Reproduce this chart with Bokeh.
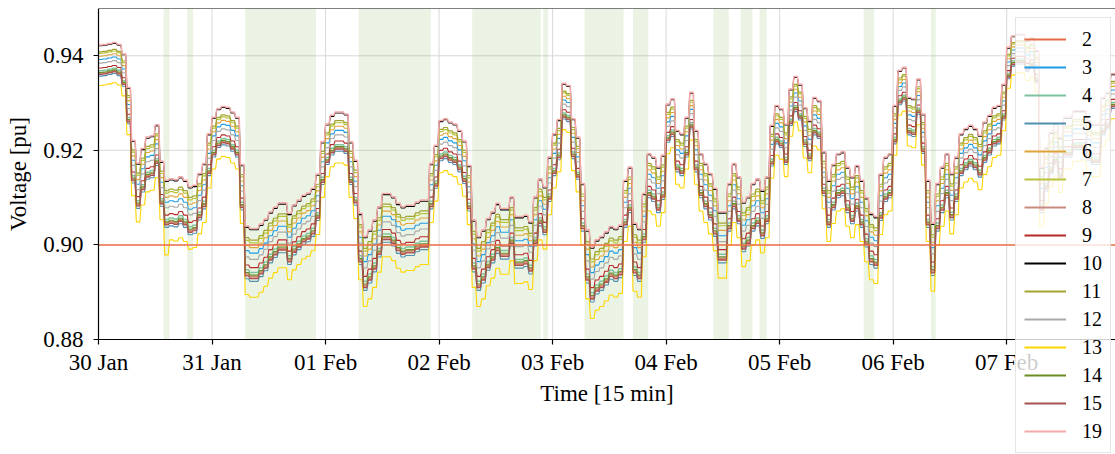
import numpy as np
import pandas as pd
from bokeh.plotting import figure
from bokeh.models import (ColumnDataSource, Range1d, FixedTicker, NumeralTickFormatter,
                          DatetimeTickFormatter, DatetimeAxis, Legend, LegendItem)
from bokeh.embed import file_html
from bokeh.resources import INLINE

# ---------------- data ----------------
start = pd.Timestamp("2023-01-30 00:00")
end = pd.Timestamp("2023-02-07 23:00")             # right edge of the visible window
day_ticks = pd.date_range(start, periods=9, freq="D")
day_labels = ["30 Jan", "31 Jan", "01 Feb", "02 Feb", "03 Feb", "04 Feb", "05 Feb", "06 Feb", "07 Feb"]
voltage_ticks = [0.88, 0.90, 0.92, 0.94]
voltage_axis = (0.88, 0.95)
voltage_limit = 0.90

# hourly voltage of bus 19 (top line), one list per day
bus19_jan30 = [0.9423, 0.9424, 0.9426, 0.9428, 0.9424, 0.9404, 0.9333, 0.9221, 0.9173, 0.9204, 0.9228, 0.9231,
               0.9254, 0.9177, 0.9137, 0.9140, 0.9138, 0.9144, 0.9137, 0.9123, 0.9126, 0.9151, 0.9172, 0.9235]
bus19_jan31 = [0.9270, 0.9288, 0.9293, 0.9291, 0.9281, 0.9270, 0.9170, 0.9040, 0.9035, 0.9035, 0.9044, 0.9055,
               0.9070, 0.9080, 0.9089, 0.9089, 0.9067, 0.9085, 0.9095, 0.9105, 0.9110, 0.9120, 0.9150, 0.9218]
bus19_feb01 = [0.9256, 0.9274, 0.9281, 0.9281, 0.9277, 0.9218, 0.9179, 0.9067, 0.9018, 0.9032, 0.9053, 0.9081,
               0.9109, 0.9109, 0.9102, 0.9088, 0.9081, 0.9084, 0.9084, 0.9091, 0.9095, 0.9095, 0.9172, 0.9211]
bus19_feb02 = [0.9263, 0.9267, 0.9260, 0.9256, 0.9242, 0.9220, 0.9168, 0.9053, 0.9018, 0.9032, 0.9056, 0.9070,
               0.9088, 0.9077, 0.9077, 0.9102, 0.9060, 0.9060, 0.9063, 0.9049, 0.9102, 0.9140, 0.9123, 0.9186]
bus19_feb03 = [0.9235, 0.9265, 0.9342, 0.9337, 0.9267, 0.9228, 0.9130, 0.9032, 0.8996, 0.9011, 0.9018, 0.9028,
               0.9039, 0.9035, 0.9042, 0.9137, 0.9165, 0.9046, 0.9035, 0.9109, 0.9193, 0.9186, 0.9165, 0.9190]
bus19_feb04 = [0.9298, 0.9309, 0.9242, 0.9235, 0.9270, 0.9323, 0.9242, 0.9193, 0.9172, 0.9151, 0.9120, 0.9070,
               0.9070, 0.9130, 0.9172, 0.9144, 0.9091, 0.9102, 0.9130, 0.9140, 0.9116, 0.9144, 0.9253, 0.9295]
bus19_feb05 = [0.9288, 0.9256, 0.9330, 0.9356, 0.9340, 0.9290, 0.9263, 0.9312, 0.9305, 0.9197, 0.9137, 0.9170,
               0.9193, 0.9197, 0.9165, 0.9144, 0.9168, 0.9137, 0.9100, 0.9067, 0.9060, 0.9150, 0.9186, 0.9193]
bus19_feb06 = [0.9295, 0.9369, 0.9376, 0.9312, 0.9309, 0.9351, 0.9277, 0.9137, 0.9046, 0.9130, 0.9165, 0.9193,
               0.9151, 0.9186, 0.9235, 0.9246, 0.9253, 0.9246, 0.9232, 0.9260, 0.9274, 0.9291, 0.9295, 0.9340]
bus19_feb07 = [0.9418, 0.9442, 0.9446, 0.9446, 0.9432, 0.9439, 0.9411, 0.9165, 0.9206, 0.9238, 0.9257, 0.9227,
               0.9270, 0.9270, 0.9284, 0.9284, 0.9284, 0.9263, 0.9256, 0.9256, 0.9312, 0.9323, 0.9362, 0.9362]

bus_names = ["2", "3", "4", "5", "6", "7", "8", "9", "10", "11", "12", "13", "14", "15", "19"]
# position of each bus between bus 19 (0) and bus 13 (1)
bus_spread_pos = [0.72, 0.36, 0.64, 0.77, 0.28, 0.21, 0.70, 0.57, 0.02, 0.17, 0.45, 1.00, 0.68, 0.73, 0.00]
# extra drop of bus 13 relative to bus 19, per unit of (source - bus 19) voltage
bus13_sensitivity = 0.154
source_voltage = 0.998
bus13_dips = {14: 0.8979}   # hour index -> voltage

# periods with under-voltage (green shading)
low_start = ["2023-01-30 13:45", "2023-01-30 18:45", "2023-01-31 07:00", "2023-02-01 07:00",
             "2023-02-02 07:00", "2023-02-02 22:00", "2023-02-03 06:45", "2023-02-03 17:00",
             "2023-02-04 10:00", "2023-02-04 15:45", "2023-02-04 19:45", "2023-02-05 17:45",
             "2023-02-06 08:00"]
low_end = ["2023-01-30 15:00", "2023-01-30 20:00", "2023-01-31 22:00", "2023-02-01 22:15",
           "2023-02-02 21:30", "2023-02-02 23:00", "2023-02-03 15:00", "2023-02-03 20:15",
           "2023-02-04 13:15", "2023-02-04 18:15", "2023-02-04 21:15", "2023-02-05 20:00",
           "2023-02-06 09:00"]

# ---------------- styles / layout ----------------
bus_colors = ["#e66a46", "#1e9be6", "#7fc39c", "#4f8fb0", "#e0a33a", "#b8c43a", "#c98a80", "#b82a2a",
              "#000000", "#a3a332", "#a9a9a9", "#ffd500", "#6b8e23", "#a65252", "#f5a9a9"]
bus_widths = [1.1, 1.1, 1.5, 1.1, 1.1, 1.2, 1.6, 1.1, 1.1, 1.2, 1.2, 1.1, 1.1, 1.2, 1.5]
GRID = "#d9d9d9"
FONT = "Liberation Serif"
W, H = 1115, 454
TOP, LEFT = 8, 98                  # top of the data band, position of the y axis
AXIS_PX = 331                      # pixel height of the 0.88..0.95 band
# The frame covers the whole figure so that nothing (legend, first tick label) is clipped;
# both axes are drawn at fixed locations (30 Jan and 0.88).
span_h = (end - start) / pd.Timedelta(hours=1)
x_low = start - pd.Timedelta(hours=span_h * LEFT / (W - LEFT))
y_low = voltage_axis[0] - (voltage_axis[1] - voltage_axis[0]) * (H - TOP - AXIS_PX) / AXIS_PX

# ---------------- build series ----------------
hourly19 = np.array(bus19_jan30 + bus19_jan31 + bus19_feb01 + bus19_feb02 + bus19_feb03 +
                    bus19_feb04 + bus19_feb05 + bus19_feb06 + bus19_feb07)
top = np.repeat(hourly19, 4)                       # 15-min steps, hourly values
times = start + pd.to_timedelta(np.arange(top.size) * 15, unit="min")
drop13 = bus13_sensitivity * (source_voltage - top)

p = figure(width=W, height=H, x_axis_type="datetime",
           x_range=Range1d(x_low, end), y_range=Range1d(y_low, voltage_axis[1]),
           output_backend="svg", toolbar_location=None,
           min_border_left=0, min_border_right=0, min_border_top=TOP, min_border_bottom=0)
p.background_fill_color = "white"
p.border_fill_color = "white"
p.outline_line_color = None
p.xgrid.visible = False
p.ygrid.visible = False

# grid lines, only over the data band
p.segment(x0=day_ticks, y0=voltage_axis[0], x1=day_ticks, y1=voltage_axis[1],
          line_color=GRID, line_width=1)
p.segment(x0=start, y0=voltage_ticks, x1=end, y1=voltage_ticks, line_color=GRID, line_width=1)

shade = ColumnDataSource(dict(left=pd.to_datetime(low_start), right=pd.to_datetime(low_end)))
p.quad(left="left", right="right", bottom=voltage_axis[0], top=voltage_axis[1], source=shade,
       fill_color="#7ab648", fill_alpha=0.15, line_color=None)

items = []
for name, color, w, pos in zip(bus_names, bus_colors, bus_widths, bus_spread_pos):
    v = top - pos * drop13
    if name == "13":
        for h, val in bus13_dips.items():
            v[4 * h:4 * h + 4] = val
    p.line(times, v, line_color=color, line_width=w)
    # hidden twin that only provides a clearly visible legend swatch
    key = p.line(times, v, line_color=color, line_width=1.8, visible=False)
    items.append(LegendItem(label=name, renderers=[key]))

# 0.90 pu limit, on top of the voltage lines, only across the data band
p.segment(x0=start, y0=voltage_limit, x1=end, y1=voltage_limit, line_color="#f0704a", line_width=1.5)

# ---------------- axes ----------------
ms = lambda ts: ts.value / 1e6
tick_ms = [ms(d) for d in day_ticks]
fmt = "%d %b"
xax = p.xaxis[0]
xax.fixed_location = voltage_axis[0]
xax.bounds = (ms(start), ms(end))
xax.ticker = FixedTicker(ticks=tick_ms)
xax.major_label_overrides = {t: lab for t, lab in zip(tick_ms, day_labels)}
xax.formatter = DatetimeTickFormatter(microseconds=fmt, milliseconds=fmt, seconds=fmt, minsec=fmt,
                                      minutes=fmt, hourmin=fmt, hours=fmt, days=fmt, months=fmt, years=fmt)
xax.axis_label = "Time [15 min]"

yax = p.yaxis[0]
yax.fixed_location = ms(start)
yax.ticker = FixedTicker(ticks=voltage_ticks)
yax.bounds = voltage_axis
yax.formatter = NumeralTickFormatter(format="0.00")
yax.axis_label = "Voltage [pu]"

for ax in (xax, yax):
    ax.axis_line_color = "black"
    ax.axis_line_width = 1.2
    ax.major_tick_line_color = "black"
    ax.major_tick_line_width = 1.2
    ax.major_tick_out = 5
    ax.major_tick_in = 0
    ax.minor_tick_line_color = None
    ax.major_label_text_font = FONT
    ax.major_label_text_font_size = "23px"
    ax.major_label_text_color = "black"
    ax.axis_label_text_font = FONT
    ax.axis_label_text_font_size = "23px"
    ax.axis_label_text_font_style = "normal"
    ax.axis_label_text_color = "black"
xax.major_label_standoff = 5
xax.axis_label_standoff = 3
yax.major_label_standoff = 10
yax.axis_label_standoff = 9

# top border of the data band
top_axis = DatetimeAxis(fixed_location=voltage_axis[1], bounds=(ms(start), ms(end)),
                        ticker=FixedTicker(ticks=[]),
                        axis_line_color="black", axis_line_width=1.2,
                        major_tick_line_color=None, minor_tick_line_color=None,
                        major_label_text_alpha=0)
p.add_layout(top_axis, "above")

legend = Legend(items=items, location=(1015, 1), orientation="vertical",
                label_text_font=FONT, label_text_font_size="20px", label_text_color="black",
                glyph_width=42, glyph_height=26, label_height=26, label_standoff=16,
                spacing=2, padding=8, margin=0,
                background_fill_color="white", background_fill_alpha=0.8,
                border_line_color="#cccccc", border_line_width=1,
                inactive_fill_alpha=0)
p.add_layout(legend)

open("out.html", "w").write(file_html(p, INLINE))
